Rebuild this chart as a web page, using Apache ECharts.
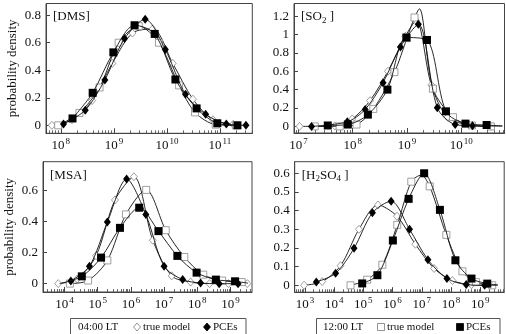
<!DOCTYPE html>
<html>
<head>
<meta charset="utf-8">
<script src="https://cdn.jsdelivr.net/npm/echarts@6/dist/echarts.min.js"></script>
<style>
html, body { margin: 0; padding: 0; background: #fff; }
#chart { width: 506px; height: 334px; }
</style>
</head>
<body>
<div id="chart"></div>
<script>
// x = log10 of concentration, y = probability density
// True = true model (open symbols), Pce = PCEs (filled symbols)
// 04 = 04:00 LT (diamonds), 12 = 12:00 LT (squares)

// [DMS]
const dmsTrue04 = [[7.83, 0], [8.21, 0.04], [8.59, 0.18], [8.97, 0.45], [9.35, 0.67], [9.73, 0.70], [10.11, 0.45], [10.49, 0.19], [10.87, 0.04], [11.25, 0.008]];
const dmsPce04 = [[8.05, 0.01], [8.46, 0.11], [8.83, 0.33], [9.20, 0.63], [9.59, 0.77], [9.97, 0.55], [10.35, 0.225], [10.73, 0.08], [11.12, 0.01], [11.49, 0]];
const dmsTrue12 = [[7.95, 0], [8.35, 0.09], [8.73, 0.275], [9.09, 0.60], [9.47, 0.72], [9.85, 0.60], [10.23, 0.29], [10.53, 0.094], [10.92, 0.005], [11.30, 0]];
const dmsPce12 = [[8.22, 0.05], [8.60, 0.236], [8.99, 0.53], [9.39, 0.727], [9.77, 0.664], [10.16, 0.333], [10.56, 0.123], [10.95, 0.015], [11.33, 0]];

// [SO2]
const so2True04 = [[7.02, 0], [7.67, 0.005], [7.99, 0.08], [8.32, 0.28], [8.65, 0.60], [8.97, 0.98], [9.17, 1.15], [9.45, 0.45], [9.75, 0.10], [10.20, 0.01], [10.55, 0]];
const so2Pce04 = [[7.24, 0], [7.90, 0.05], [8.23, 0.185], [8.56, 0.476], [8.88, 0.865], [9.21, 1.11], [9.56, 0.204], [9.89, 0.02], [10.21, 0.008]];
const so2True12 = [[7.30, 0], [7.76, 0], [8.07, 0.02], [8.38, 0.19], [8.77, 0.59], [9.00, 0.96], [9.14, 1.185], [9.48, 0.41], [9.85, 0.10], [10.20, 0.01], [10.55, 0]];
const so2Pce12 = [[7.54, 0.01], [7.91, 0.02], [8.28, 0.128], [8.64, 0.40], [8.99, 0.967], [9.37, 0.94], [9.72, 0.164], [10.08, 0.03], [10.47, 0.015]];
const so2True12Line = [[9.23, 1.28]];
const so2Pce04Line = [[10.76, 0.003]];
const so2Pce12Line = [[10.76, 0.005]];

// [MSA]
const msaTrue04 = [[3.81, 0], [4.38, 0.03], [4.95, 0.18], [5.52, 0.54], [6.09, 0.69], [6.66, 0.28], [7.23, 0.05], [7.80, 0.01], [8.37, 0], [8.94, 0], [9.51, 0]];
const msaPce04 = [[4.19, 0.017], [4.75, 0.112], [5.29, 0.397], [5.87, 0.675], [6.45, 0.447], [7.00, 0.112], [7.56, 0.026], [8.10, 0.004], [8.66, 0], [9.23, 0]];
const msaTrue12 = [[4.16, 0], [4.71, 0.02], [5.29, 0.15], [5.85, 0.447], [6.46, 0.605], [7.05, 0.345], [7.61, 0.172], [8.18, 0.058], [8.75, 0.02], [9.34, 0.01]];
const msaPce12 = [[4.52, 0.047], [5.10, 0.168], [5.67, 0.36], [6.25, 0.49], [6.83, 0.339], [7.40, 0.179], [7.98, 0.071], [8.56, 0.026], [9.14, 0.015]];
const msaPce12Line = [[3.85, 0], [9.53, 0.003]];

// [H2SO4]
const h2so4True04 = [[2.97, 0], [3.59, 0.02], [4.22, 0.105], [4.85, 0.30], [5.50, 0.43], [6.15, 0.37], [6.78, 0.22], [7.42, 0.09], [8.05, 0.025], [8.70, 0.003], [9.33, 0]];
const h2so4Pce04 = [[3.39, 0.018], [4.05, 0.064], [4.68, 0.198], [5.31, 0.388], [5.95, 0.45], [6.58, 0.30], [7.21, 0.137], [7.86, 0.037], [8.52, 0.004], [9.15, 0]];
const h2so4True12 = [[4.56, 0], [5.13, 0.03], [5.65, 0.11], [6.16, 0.324], [6.64, 0.555], [7.27, 0.53], [7.84, 0.27], [8.39, 0.075], [8.85, 0.017], [9.41, 0]];
const h2so4Pce12 = [[4.96, 0.01], [5.48, 0.054], [6.01, 0.24], [6.55, 0.463], [7.08, 0.60], [7.62, 0.404], [8.15, 0.134], [8.70, 0.036], [9.24, 0.009]];
const h2so4True12Line = [[6.98, 0.59]];
const h2so4Pce04Line = [[9.60, 0]];
const h2so4Pce12Line = [[9.60, 0.003]];

// axis tick labels
const dmsXTicks = [8, 9, 10, 11];
const so2XTicks = [7, 8, 9, 10];
const msaXTicks = [4, 5, 6, 7, 8, 9];
const h2so4XTicks = [3, 4, 5, 6, 7, 8, 9];
const dmsYTicks = [0, 0.2, 0.4, 0.6, 0.8];
const so2YTicks = [0, 0.2, 0.4, 0.6, 0.8, 1, 1.2];
const msaYTicks = [0, 0.2, 0.4, 0.6];
const h2so4YTicks = [0, 0.1, 0.2, 0.3, 0.4, 0.5, 0.6];

const FONT = "'Liberation Serif', 'Times New Roman', Times, serif";
const INK = '#111';
const FRAME = '#444';

const styles = {
  true04: { symbol: 'diamond', size: [7, 8], item: { color: '#fff', borderColor: '#888', borderWidth: 0.8 }, z: 2 },
  pce04: { symbol: 'diamond', size: [7, 9], item: { color: '#000', borderColor: '#000', borderWidth: 0 }, z: 4 },
  true12: { symbol: 'rect', size: 7, item: { color: '#fff', borderColor: '#888', borderWidth: 0.8 }, z: 3 },
  pce12: { symbol: 'rect', size: 8, item: { color: '#000', borderColor: '#000', borderWidth: 0 }, z: 5 }
};

const panels = [
  { label: '{n|[DMS]}', left: 46, top: 3.5, width: 206.3, height: 129.8, xMin: 7.72, xMax: 11.61, yMin: -0.058, yMax: 0.885,
    xTicks: dmsXTicks, yTicks: dmsYTicks, yName: true,
    curves: [[dmsTrue04, null, 'true04'], [dmsTrue12, null, 'true12'], [dmsPce04, null, 'pce04'], [dmsPce12, null, 'pce12']] },
  { label: '{n|[SO}{sub|2}{n| ]}', left: 294, top: 3.5, width: 210.5, height: 129.5, xMin: 6.917, xMax: 10.80, yMin: -0.072, yMax: 1.337,
    xTicks: so2XTicks, yTicks: so2YTicks, yName: false,
    curves: [[so2True04, null, 'true04'], [so2True12, so2True12Line, 'true12'], [so2Pce04, so2Pce04Line, 'pce04'], [so2Pce12, so2Pce12Line, 'pce12']] },
  { label: '{n|[MSA]}', left: 43, top: 161.7, width: 209, height: 130.3, xMin: 3.35, xMax: 9.65, yMin: -0.054, yMax: 0.787,
    xTicks: msaXTicks, yTicks: msaYTicks, yName: true,
    curves: [[msaTrue04, null, 'true04'], [msaTrue12, null, 'true12'], [msaPce04, null, 'pce04'], [msaPce12, msaPce12Line, 'pce12']] },
  { label: '{n|[H}{sub|2}{n|SO}{sub|4}{n| ]}', left: 294.7, top: 161.7, width: 209.5, height: 130.5, xMin: 2.65, xMax: 9.82, yMin: -0.037, yMax: 0.662,
    xTicks: h2so4XTicks, yTicks: h2so4YTicks, yName: false,
    curves: [[h2so4True04, null, 'true04'], [h2so4True12, h2so4True12Line, 'true12'], [h2so4Pce04, h2so4Pce04Line, 'pce04'], [h2so4Pce12, h2so4Pce12Line, 'pce12']] }
];

function minorTicks(min, max) {
  const out = [];
  for (let n = Math.floor(min); n <= Math.ceil(max); n++) {
    for (let k = 2; k <= 9; k++) {
      const v = n + Math.log10(k);
      if (v > min && v < max) out.push(v);
    }
  }
  return out;
}

const grid = [], xAxis = [], yAxis = [], series = [], graphic = [];

panels.forEach((p, i) => {
  grid.push({ left: p.left, top: p.top, width: p.width, height: p.height, show: true, borderColor: FRAME, borderWidth: 1, containLabel: false });

  // major ticks + labels
  xAxis.push({
    type: 'value', gridIndex: i, min: p.xMin, max: p.xMax, position: 'bottom',
    axisLine: { show: true, onZero: false, lineStyle: { color: FRAME, width: 1 } },
    axisTick: { show: true, inside: true, length: 5, customValues: p.xTicks, lineStyle: { color: FRAME } },
    axisLabel: {
      customValues: p.xTicks, margin: 4,
      formatter: v => '{b|10}{s|' + v + '}',
      rich: {
        b: { fontFamily: FONT, fontSize: 13, color: INK, lineHeight: 17 },
        s: { fontFamily: FONT, fontSize: 9, color: INK, verticalAlign: 'top', padding: [0, 0, 0, 1] }
      }
    },
    splitLine: { show: false }
  });
  // minor log ticks (2..9 x 10^n), shorter
  xAxis.push({
    type: 'value', gridIndex: i, min: p.xMin, max: p.xMax, position: 'bottom',
    axisLine: { show: true, onZero: false, lineStyle: { color: 'rgba(0,0,0,0)' } },
    axisTick: { show: true, inside: true, length: 3, customValues: minorTicks(p.xMin, p.xMax), lineStyle: { color: FRAME, width: 0.8 } },
    axisLabel: { show: false },
    splitLine: { show: false }
  });

  yAxis.push({
    type: 'value', gridIndex: i, min: p.yMin, max: p.yMax,
    axisLine: { show: true, onZero: false, lineStyle: { color: FRAME, width: 1 } },
    axisTick: { show: true, inside: true, length: 4, customValues: p.yTicks, lineStyle: { color: FRAME } },
    axisLabel: { customValues: p.yTicks, margin: 5, formatter: v => String(v), fontFamily: FONT, fontSize: 13, color: INK },
    splitLine: { show: false },
    name: p.yName ? 'probability density' : '',
    nameLocation: 'middle', nameGap: 27,
    nameTextStyle: { fontFamily: FONT, fontSize: 13, color: INK }
  });

  p.curves.forEach(([pts, extra, kind]) => {
    const st = styles[kind];
    const data = pts.map(v => ({ value: v }))
      .concat((extra || []).map(v => ({ value: v, symbol: 'none' })))
      .sort((a, b) => a.value[0] - b.value[0]);
    series.push({
      type: 'line', xAxisIndex: i * 2, yAxisIndex: i, data,
      smooth: 0.3, symbol: st.symbol, symbolSize: st.size, showAllSymbol: true,
      lineStyle: { color: INK, width: 0.9 }, itemStyle: st.item, z: st.z,
      emphasis: { disabled: true }, silent: true
    });
  });

  graphic.push({
    type: 'text', left: p.left + 7, top: p.top + 7, z: 10,
    style: {
      text: p.label,
      rich: {
        n: { fontFamily: FONT, fontSize: 13, fill: INK, lineHeight: 16 },
        sub: { fontFamily: FONT, fontSize: 9, fill: INK, verticalAlign: 'bottom' }
      }
    }
  });
});

// legend boxes under the bottom panels
function legendBox(x0, x1, timeText, tx, openShape, ox, fx) {
  const yc = 327;
  graphic.push({ type: 'rect', shape: { x: x0, y: 318.5, width: x1 - x0, height: 30 }, style: { fill: '#fff', stroke: '#555', lineWidth: 1 } });
  graphic.push({ type: 'text', x: tx, y: yc, style: { text: timeText, fontFamily: FONT, fontSize: 11, fill: INK, verticalAlign: 'middle' } });
  const mk = (cx, filled) => openShape === 'diamond'
    ? { type: 'polygon', shape: { points: [[cx, yc - 4], [cx + 3.5, yc], [cx, yc + 4], [cx - 3.5, yc]] }, style: { fill: filled ? '#000' : '#fff', stroke: filled ? '#000' : '#777', lineWidth: 0.8 } }
    : { type: 'rect', shape: { x: cx - 3.5, y: yc - 3.5, width: 7, height: 7 }, style: { fill: filled ? '#000' : '#fff', stroke: filled ? '#000' : '#777', lineWidth: 0.8 } };
  graphic.push(mk(ox, false));
  graphic.push({ type: 'text', x: ox + 6, y: yc, style: { text: 'true model', fontFamily: FONT, fontSize: 11, fill: INK, verticalAlign: 'middle' } });
  graphic.push(mk(fx, true));
  graphic.push({ type: 'text', x: fx + 6, y: yc, style: { text: 'PCEs', fontFamily: FONT, fontSize: 11, fill: INK, verticalAlign: 'middle' } });
}
legendBox(70.5, 246, '04:00 LT', 78, 'diamond', 137, 207);
legendBox(316.5, 500, '12:00 LT', 323, 'square', 381, 460);

const chart = echarts.init(document.getElementById('chart'), null, { renderer: 'canvas' });
chart.setOption({
  animation: false,
  backgroundColor: '#fff',
  grid, xAxis, yAxis, series, graphic
});
</script>
</body>
</html>
